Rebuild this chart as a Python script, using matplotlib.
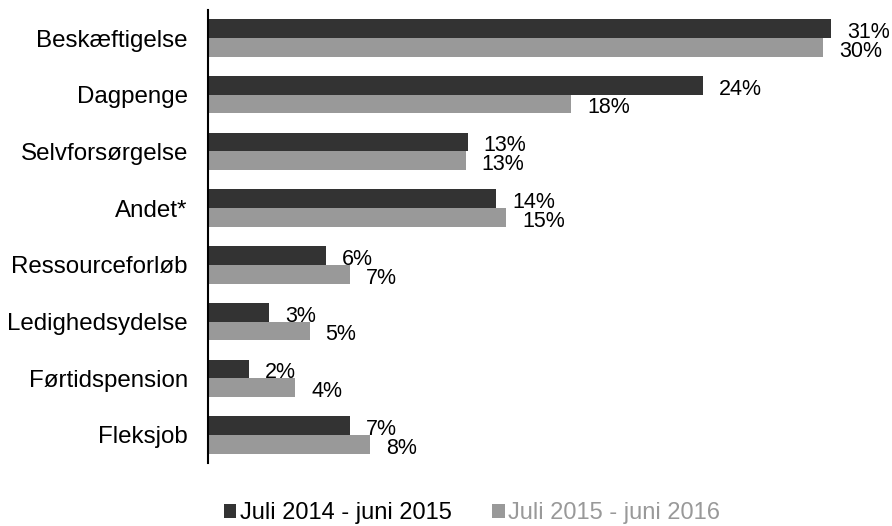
import matplotlib
matplotlib.use("Agg")
import matplotlib.pyplot as plt
from matplotlib.patches import Patch
import numpy as np

categories = ["Beskæftigelse", "Dagpenge", "Selvforsørgelse", "Andet*",
              "Ressourceforløb", "Ledighedsydelse", "Førtidspension", "Fleksjob"]
series_names = ["Juli 2014 - juni 2015", "Juli 2015 - juni 2016"]
values_2014 = [30.7, 24.4, 12.8, 14.2, 5.8, 3.0, 2.0, 7.0]
values_2015 = [30.3, 17.9, 12.7, 14.7, 7.0, 5.0, 4.3, 8.0]

dark = "#333333"
gray = "#999999"

plt.rcParams['font.family'] = ['Liberation Sans', 'DejaVu Sans']

fig = plt.figure(figsize=(8.92, 5.26), dpi=100)
W, H = 892, 526
ax = fig.add_axes([208 / W, 1 - 463.3 / H, (872 - 208) / W, (463.3 - 9.65) / H])

y = np.arange(len(categories))
h = 0.33
b1 = ax.barh(y - h / 2, values_2014, height=h, color=dark)
b2 = ax.barh(y + h / 2, values_2015, height=h, color=gray)

for bars, vals in ((b1, values_2014), (b2, values_2015)):
    for rect, v in zip(bars, vals):
        ax.annotate(f"{v:.0f}%", xy=(rect.get_width(), rect.get_y() + rect.get_height() / 2),
                    xytext=(11.5, -2.8), textcoords="offset points",
                    ha="left", va="center", fontsize=15.5, color="#000000")

ax.set_xlim(0, (872 - 208) / 20.3)
ax.set_ylim(len(categories) - 0.5, -0.5)
ax.set_yticks(y)
ax.set_yticklabels(categories, fontsize=17.4, color="#000000")
ax.tick_params(axis="y", length=0, pad=14.5)
ax.set_xticks([])
for s in ("top", "right", "bottom"):
    ax.spines[s].set_visible(False)
ax.spines["left"].set_linewidth(1.5)
ax.spines["left"].set_color("#000000")

handles = [Patch(facecolor=dark, edgecolor="none"), Patch(facecolor=gray, edgecolor="none")]
leg = fig.legend(handles, series_names, loc="center", bbox_to_anchor=(472 / W, 1 - 513 / H),
                 ncol=2, frameon=False, fontsize=17, handlelength=0.53, handleheight=0.53,
                 handletextpad=0.15, columnspacing=1.7, borderpad=0, borderaxespad=0)
leg.get_texts()[0].set_color("#000000")
leg.get_texts()[1].set_color(gray)

fig.savefig("out.png", dpi=100)
